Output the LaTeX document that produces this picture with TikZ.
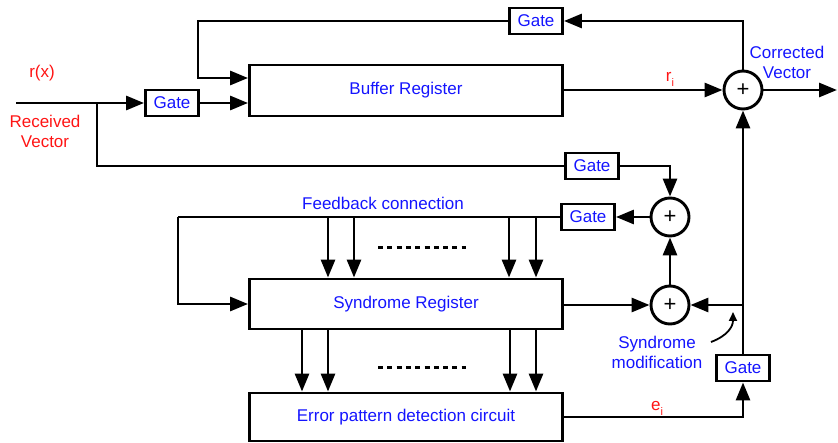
\documentclass[tikz,border=0pt]{standalone}
\usepackage{fontspec}
\setmainfont{Liberation Sans}
\usetikzlibrary{arrows.meta,calc}
\definecolor{tblue}{RGB}{20,20,255}
\definecolor{tred}{RGB}{255,20,20}
\begin{document}
\begin{tikzpicture}[x=1pt,y=-1pt,line width=2.9pt,
  font=\fontsize{17}{20}\selectfont,
  arr/.style={-{Triangle[length=18pt,width=14pt]}},
  gatebox/.style={draw,rectangle,minimum width=53pt,minimum height=26pt,inner sep=0pt,text=tblue},
  regbox/.style={draw,rectangle,minimum width=313pt,inner sep=0pt,text=tblue},
  adder/.style={draw,circle,minimum size=38pt,inner sep=0pt,font=\fontsize{22}{22}\selectfont},
  lblred/.style={text=tred,align=center,inner sep=0pt},
  lblblue/.style={text=tblue,align=center,inner sep=0pt}]
\useasboundingbox (0,0) rectangle (838,443);
% nodes
\node[regbox,minimum height=51pt] (B) at (406,90.5) {Buffer Register};
\node[regbox,minimum height=50pt] (S) at (406,304) {Syndrome Register};
\node[regbox,minimum height=48pt] (E) at (406,417) {Error pattern detection circuit};
\node[gatebox] (G1) at (172,103) {Gate};
\node[gatebox] (G0) at (536,21) {Gate};
\node[gatebox] (G2) at (592,166) {Gate};
\node[gatebox] (G3) at (588,217) {Gate};
\node[gatebox] (G4) at (743,368) {Gate};
\node[adder] (A1) at (743,90) {+};
\node[adder] (A2) at (670,217) {+};
\node[adder] (A3) at (670,305) {+};
\coordinate (in) at (16,103);
\coordinate (split) at (97,103);
\coordinate (tl) at (198,78);
\coordinate (out) at (837,90);
\coordinate (fb) at (178,217);
\coordinate (J) at (743,305);
% connectors
\draw[arr] (in) -- (G1.west);
\draw[arr] (G1.east) -- (G1.east -| B.west);
\draw (split) |- (G2.west);
\draw[arr] (A1.north) |- (G0.east);
\draw[arr] (G0.west) -| (tl) -- (tl -| B.west);
\draw[arr] (B.east |- A1.west) -- (A1.west);
\draw[arr] (A1.east) -- (out);
\draw[arr] (G2.east) -| (A2.north);
\draw[arr] (A2.west) -- (G3.east);
\draw (G3.west) -- (fb);
\draw[arr] (fb) |- (S.west);
\foreach \xx in {328,354,509,536}{
  \draw[arr] (\xx,217) -- (S.north -| \xx,0);
}
\foreach \xx in {302,328,510,536}{
  \draw[arr] (S.south -| \xx,0) -- (E.north -| \xx,0);
}
\draw[line width=3pt,dash pattern=on 5pt off 4.3pt] (378,248) -- (466,248);
\draw[line width=3pt,dash pattern=on 5pt off 4.3pt] (378,368) -- (466,368);
\draw[arr] (S.east |- A3.west) -- (A3.west);
\draw[arr] (A3.north) -- (A2.south);
\draw[arr] (J) -- (A3.east);
\draw[arr] (G4.north) -- (A1.south);
\draw[arr] (E.east) -| (G4.south);
\draw[line width=1.8pt,-{Triangle[length=9pt,width=8pt]}] (711,342) .. controls (727,336) and (733,327) .. (733,312);
% labels
\node[lblred] (rx) at (42,73) {r(x)};
\node[lblred] (rv) at (45,131) {Received\\Vector};
\node[lblred] (ri) at (670,79) {r\raisebox{-5pt}{\fontsize{11}{11}\selectfont i}};
\node[lblred] (ei) at (657,408) {e\raisebox{-5pt}{\fontsize{11}{11}\selectfont i}};
\node[lblblue] (cv) at (787,62) {Corrected\\Vector};
\node[lblblue] (fc) at (383,203) {Feedback connection};
\node[lblblue] (sm) at (657,352) {Syndrome\\modification};
\end{tikzpicture}
\end{document}
